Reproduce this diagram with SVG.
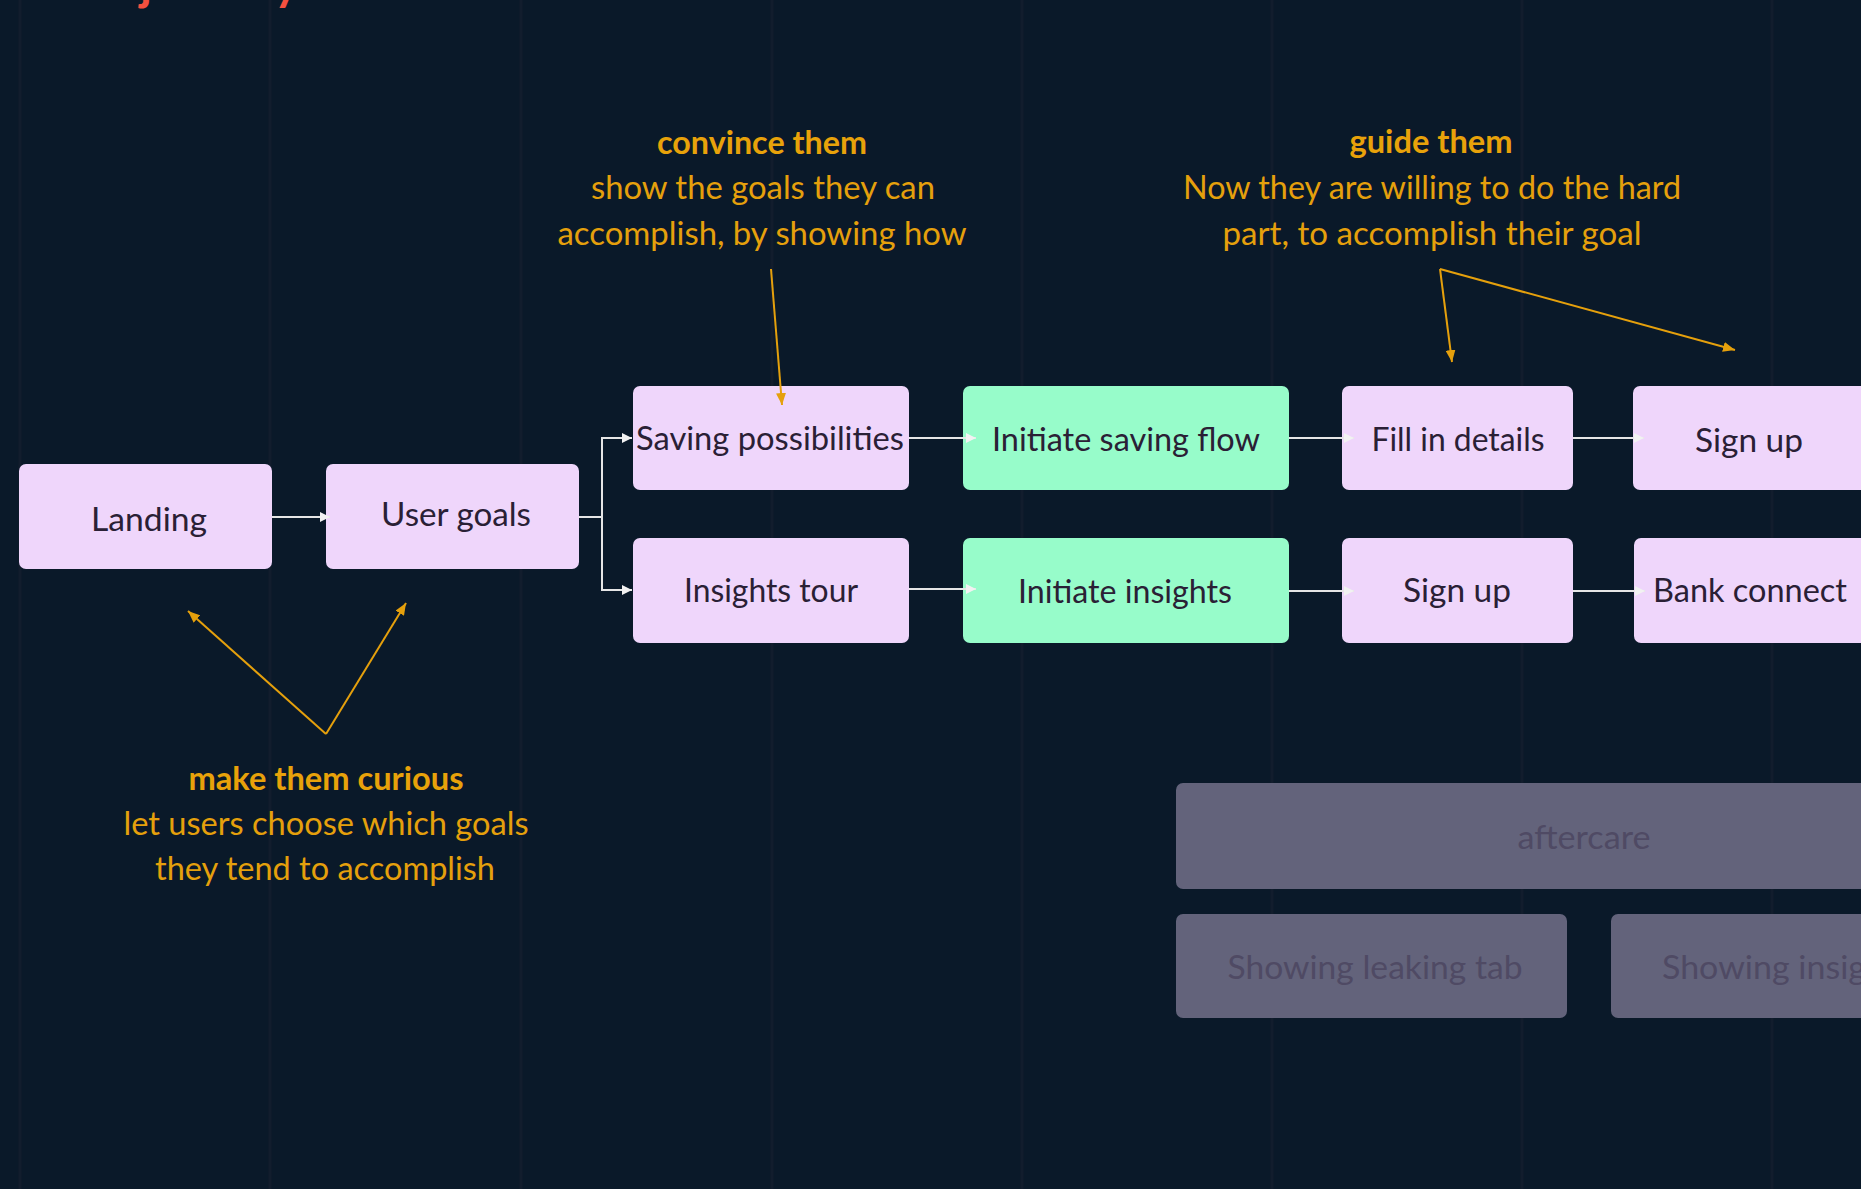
<svg xmlns="http://www.w3.org/2000/svg" width="1861" height="1189" viewBox="0 0 1861 1189">
<defs>
<style>
.bg{fill:#0a1929}
.grid{stroke:#121d2d;stroke-width:3}
.pink{fill:#efd6fb}
.green{fill:#97fcca}
.gray{fill:#63637b}
.nt{font-family:Lato,"Open Sans",sans-serif;font-size:32px;fill:#2a2035;text-anchor:middle}
.gt{font-family:Lato,"Open Sans",sans-serif;font-size:32px;fill:#4f4a64;text-anchor:middle}
.an{font-family:Lato,"Open Sans",sans-serif;font-size:32px;fill:#e5a00c;text-anchor:middle}
.ah{font-family:Lato,"Open Sans",sans-serif;font-size:32px;font-weight:bold;fill:#e8a20a;text-anchor:middle}
.flow{fill:none;stroke:#e6e6e6;stroke-width:2;marker-end:url(#wa)}
.note{fill:none;stroke:#e5a00c;stroke-width:2;marker-end:url(#oa)}
.title{font-family:Lato,"Open Sans",sans-serif;font-size:47px;font-weight:bold;fill:#f5503f}
</style>
<marker id="wa" viewBox="0 0 10 10" refX="10" refY="5" markerWidth="10" markerHeight="10" markerUnits="userSpaceOnUse" orient="auto">
<path d="M0 0 L10 5 L0 10 Z" fill="#f2f2f2"/>
</marker>
<marker id="oa" viewBox="0 0 12 10" refX="12" refY="5" markerWidth="12" markerHeight="10" markerUnits="userSpaceOnUse" orient="auto">
<path d="M0 0 L12 5 L0 10 Z" fill="#e5a00c"/>
</marker>
</defs>
<rect class="bg" x="0" y="0" width="1861" height="1189"/>
<g id="grid">
<line class="grid" x1="20" y1="0" x2="20" y2="1189"/>
<line class="grid" x1="270" y1="0" x2="270" y2="1189"/>
<line class="grid" x1="521" y1="0" x2="521" y2="1189"/>
<line class="grid" x1="772" y1="0" x2="772" y2="1189"/>
<line class="grid" x1="1022" y1="0" x2="1022" y2="1189"/>
<line class="grid" x1="1272" y1="0" x2="1272" y2="1189"/>
<line class="grid" x1="1522" y1="0" x2="1522" y2="1189"/>
<line class="grid" x1="1772" y1="0" x2="1772" y2="1189"/>
</g>
<text class="title" x="140" y="0">journey</text>

<g id="landing"><rect class="pink" x="19" y="464" width="253" height="105" rx="7"/><text class="nt" x="149" y="531" textLength="116" lengthAdjust="spacingAndGlyphs">Landing</text></g>
<g id="user-goals"><rect class="pink" x="326" y="464" width="253" height="105" rx="7"/><text class="nt" x="456" y="526" textLength="150" lengthAdjust="spacingAndGlyphs">User goals</text></g>
<g id="saving-possibilities"><rect class="pink" x="633" y="386" width="276" height="104" rx="7"/><text class="nt" x="770" y="450" textLength="268" lengthAdjust="spacingAndGlyphs">Saving possibilities</text></g>
<g id="insights-tour"><rect class="pink" x="633" y="538" width="276" height="105" rx="7"/><text class="nt" x="771" y="602" textLength="174" lengthAdjust="spacingAndGlyphs">Insights tour</text></g>
<g id="initiate-saving-flow"><rect class="green" x="963" y="386" width="326" height="104" rx="7"/><text class="nt" x="1126" y="451" textLength="268" lengthAdjust="spacingAndGlyphs">Initiate saving flow</text></g>
<g id="initiate-insights"><rect class="green" x="963" y="538" width="326" height="105" rx="7"/><text class="nt" x="1125" y="603" textLength="214" lengthAdjust="spacingAndGlyphs">Initiate insights</text></g>
<g id="fill-in-details"><rect class="pink" x="1342" y="386" width="231" height="104" rx="7"/><text class="nt" x="1458" y="451" textLength="173" lengthAdjust="spacingAndGlyphs">Fill in details</text></g>
<g id="sign-up-2"><rect class="pink" x="1342" y="538" width="231" height="105" rx="7"/><text class="nt" x="1457" y="602" textLength="108" lengthAdjust="spacingAndGlyphs">Sign up</text></g>
<g id="sign-up-1"><rect class="pink" x="1633" y="386" width="260" height="104" rx="7"/><text class="nt" x="1749" y="452" textLength="108" lengthAdjust="spacingAndGlyphs">Sign up</text></g>
<g id="bank-connect"><rect class="pink" x="1634" y="538" width="260" height="105" rx="7"/><text class="nt" x="1750" y="602" textLength="194" lengthAdjust="spacingAndGlyphs">Bank connect</text></g>

<g id="aftercare"><rect class="gray" x="1176" y="783" width="720" height="106" rx="7"/><text class="gt" x="1584" y="849" textLength="133" lengthAdjust="spacingAndGlyphs">aftercare</text></g>
<g id="showing-leaking-tab"><rect class="gray" x="1176" y="914" width="391" height="104" rx="7"/><text class="gt" x="1375" y="979" textLength="295" lengthAdjust="spacingAndGlyphs">Showing leaking tab</text></g>
<g id="showing-insights"><rect class="gray" x="1611" y="914" width="290" height="104" rx="7"/><text class="gt" x="1662" y="979" style="text-anchor:start" textLength="204" lengthAdjust="spacingAndGlyphs">Showing insig</text></g>

<g id="connectors">
<path class="flow" d="M272 517 H330"/>
<path class="flow" d="M579 517 H602 V438 H632"/>
<path class="flow" d="M602 517 V590 H632"/>
<path class="flow" d="M909 438 H976"/>
<path class="flow" d="M1289 438 H1354"/>
<path class="flow" d="M1573 438 H1644"/>
<path class="flow" d="M909 589 H976"/>
<path class="flow" d="M1289 591 H1354"/>
<path class="flow" d="M1573 591 H1645"/>
<path class="note" d="M771 269 L782 405"/>
<path class="note" d="M1440 269 L1452 362"/>
<path class="note" d="M1440 269 L1735 350"/>
<path class="note" d="M326 734 L188 611"/>
<path class="note" d="M326 734 L406 603"/>
</g>

<g id="note-convince">
<text class="ah" x="762" y="154" textLength="210" lengthAdjust="spacingAndGlyphs">convince them</text>
<text class="an" x="763" y="199" textLength="344" lengthAdjust="spacingAndGlyphs">show the goals they can</text>
<text class="an" x="762" y="245" textLength="409" lengthAdjust="spacingAndGlyphs">accomplish, by showing how</text>
</g>
<g id="note-guide">
<text class="ah" x="1431" y="153" textLength="163" lengthAdjust="spacingAndGlyphs">guide them</text>
<text class="an" x="1432" y="199" textLength="498" lengthAdjust="spacingAndGlyphs">Now they are willing to do the hard</text>
<text class="an" x="1432" y="245" textLength="419" lengthAdjust="spacingAndGlyphs">part, to accomplish their goal</text>
</g>
<g id="note-curious">
<text class="ah" x="326" y="790" textLength="275" lengthAdjust="spacingAndGlyphs">make them curious</text>
<text class="an" x="326" y="835" textLength="405" lengthAdjust="spacingAndGlyphs">let users choose which goals</text>
<text class="an" x="325" y="880" textLength="340" lengthAdjust="spacingAndGlyphs">they tend to accomplish</text>
</g>
</svg>
